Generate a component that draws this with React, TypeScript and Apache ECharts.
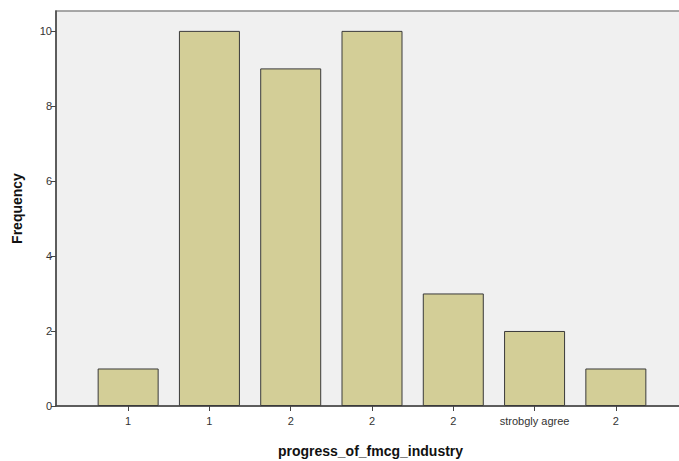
import React, { useEffect, useRef } from "react";
import * as echarts from "echarts";

const categories = ["1", "1", "2", "2", "2", "strobgly agree", "2"];
const frequencies = [1, 10, 9, 10, 3, 2, 1];
const yTicks = [0, 2, 4, 6, 8, 10];

export default function App() {
  const ref = useRef<HTMLDivElement>(null);
  useEffect(() => {
    document.body.style.margin = "0";
    if (!ref.current) return;
    const chart = echarts.init(ref.current, undefined, { renderer: "svg" });
    const font = "Arial, 'Liberation Sans', sans-serif";
    chart.setOption({
      animation: false,
      grid: [
        {
          left: 56,
          top: 11,
          right: -6,
          bottom: 55,
          show: true,
          backgroundColor: "#f0f0f0",
          borderColor: "#8c8c8c",
          borderWidth: 1.5,
          outerBoundsMode: "none",
          containLabel: false,
        },
        { left: 87.5, top: 11, right: 22.5, bottom: 55, outerBoundsMode: "none", containLabel: false },
      ],
      xAxis: [
        {
          gridIndex: 0,
          type: "value",
          min: 0,
          max: 1,
          axisLine: { show: true, onZero: false, lineStyle: { color: "#444", width: 1.5 } },
          axisTick: { show: false },
          axisLabel: { show: false },
          splitLine: { show: false },
          name: "progress_of_fmcg_industry",
          nameLocation: "middle",
          nameGap: 38,
          nameTextStyle: { fontFamily: font, fontWeight: "bold", fontSize: 14, color: "#111" },
        },
        {
          gridIndex: 1,
          type: "category",
          data: categories,
          axisLine: { show: false },
          axisTick: { show: true, alignWithLabel: true, length: 5, lineStyle: { color: "#444" } },
          axisLabel: { fontFamily: font, fontSize: 11, color: "#333", margin: 9, interval: 0 },
        },
      ],
      yAxis: [
        {
          gridIndex: 0,
          type: "value",
          min: 0,
          max: 10.53,
          interval: 2,
          axisLine: { show: true, lineStyle: { color: "#444", width: 1.5 } },
          axisTick: { show: true, length: 5, lineStyle: { color: "#444" } },
          axisLabel: {
            fontFamily: font,
            fontSize: 11,
            color: "#333",
            margin: 4,
            showMaxLabel: false,
            formatter: (v: number) => (yTicks.includes(v) ? String(v) : ""),
          },
          splitLine: { show: false },
          name: "Frequency",
          nameLocation: "middle",
          nameGap: 32,
          nameTextStyle: { fontFamily: font, fontWeight: "bold", fontSize: 14, color: "#111" },
        },
        {
          gridIndex: 1,
          type: "value",
          min: 0,
          max: 10.53,
          show: false,
        },
      ],
      series: [
        {
          type: "bar",
          xAxisIndex: 1,
          yAxisIndex: 1,
          data: frequencies,
          barWidth: 61,
          itemStyle: { color: "#d3ce97", borderColor: "#3a3a3a", borderWidth: 1 },
        },
      ],
    });
    return () => chart.dispose();
  }, []);
  return <div ref={ref} style={{ width: 679, height: 461 }} />;
}
